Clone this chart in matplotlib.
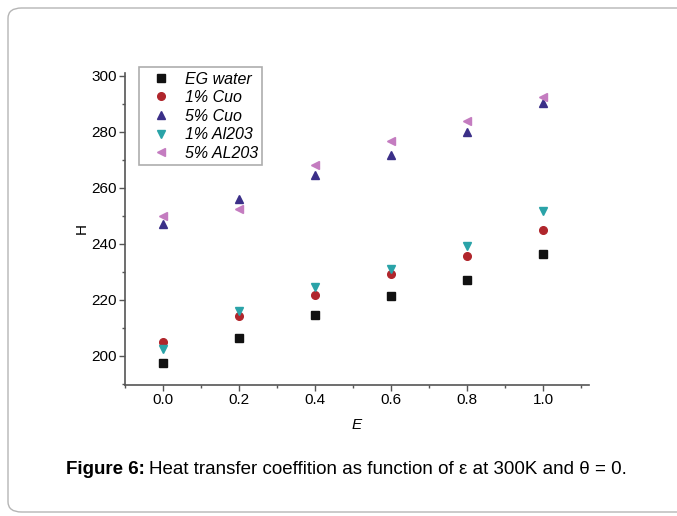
import matplotlib
matplotlib.use('Agg')
import matplotlib.pyplot as plt
from matplotlib.patches import FancyBboxPatch
from matplotlib.ticker import MultipleLocator

plt.rcParams['font.family'] = ['Liberation Sans', 'DejaVu Sans']

# Datos
eps = [0.0, 0.2, 0.4, 0.6, 0.8, 1.0]
eg_water = [197.6, 206.5, 214.6, 221.5, 227.1, 236.3]
cuo_1 = [205.1, 214.3, 221.8, 229.3, 235.8, 245.0]
cuo_5 = [247.0, 256.0, 264.6, 271.8, 280.0, 290.2]
al_1 = [202.5, 216.2, 224.5, 231.0, 239.3, 251.7]
al_5 = [250.1, 252.4, 268.0, 276.7, 283.8, 292.6]

series = [
    (eg_water, 'EG water', 's', '#111111'),
    (cuo_1, '1% Cuo', 'o', '#b0262c'),
    (cuo_5, '5% Cuo', '^', '#3b2f88'),
    (al_1, '1% Al203', 'v', '#2aa3a8'),
    (al_5, '5% AL203', '<', '#c47cc0'),
]

fig = plt.figure(figsize=(6.77, 5.16), dpi=100)

# Marco redondeado (el borde derecho queda fuera de la imagen)
frame = FancyBboxPatch((8 / 677, 4 / 516), 740 / 677, 504 / 516,
                       boxstyle='round,pad=0,rounding_size=0.02',
                       transform=fig.transFigure, fill=False,
                       edgecolor='#b5b5b5', linewidth=1.0, clip_on=False)
fig.patches.append(frame)

ax = fig.add_axes([125 / 677, 1 - 385 / 516, (589 - 125) / 677, (385 - 73) / 516])

for vals, lab, mk, col in series:
    ax.plot(eps, vals, linestyle='none', marker=mk, color=col,
            markersize=5.5, label=lab)

ax.set_xlim(-0.1, 1.12)
ax.set_ylim(189.6, 301)
ax.xaxis.set_minor_locator(MultipleLocator(0.1))
ax.yaxis.set_minor_locator(MultipleLocator(10))
ax.set_xticks([0.0, 0.2, 0.4, 0.6, 0.8, 1.0])
ax.set_xticklabels(['0.0', '0.2', '0.4', '0.6', '0.8', '1.0'])
ax.set_yticks([200, 220, 240, 260, 280, 300])

for s in ['top', 'right']:
    ax.spines[s].set_visible(False)
for s in ['left', 'bottom']:
    ax.spines[s].set_color('#555555')
    ax.spines[s].set_linewidth(1.2)

ax.tick_params(which='major', direction='out', length=4, width=1.0,
               color='#555555', labelsize=11, pad=2)
ax.tick_params(which='minor', direction='out', length=2.5, width=1.0,
               color='#555555')

ax.set_xlabel('E', fontsize=11, style='italic', labelpad=8)
ax.set_ylabel('H', fontsize=11, labelpad=2)

leg = ax.legend(loc='upper left', bbox_to_anchor=(14 / 464, 1.02),
                prop={'style': 'italic', 'size': 11.5}, frameon=True,
                fancybox=False, borderpad=0.3, labelspacing=0.22,
                handletextpad=0.45, handlelength=2.1, borderaxespad=0)
leg.get_frame().set_edgecolor('#999999')
leg.get_frame().set_linewidth(1.2)

# Pie de figura
t1 = fig.text(66 / 677, 1 - 469 / 516, 'Figure 6:', fontsize=13.5,
              fontweight='bold', va='center', ha='left')
fig.canvas.draw()
bb = t1.get_window_extent(renderer=fig.canvas.get_renderer())
x2 = bb.x1 / fig.bbox.width + 4 / 677
fig.text(x2, 1 - 469 / 516,
         'Heat transfer coeffition as function of ε at 300K and θ = 0.',
         fontsize=13.5, va='center', ha='left')

fig.savefig('out.png', dpi=100)
